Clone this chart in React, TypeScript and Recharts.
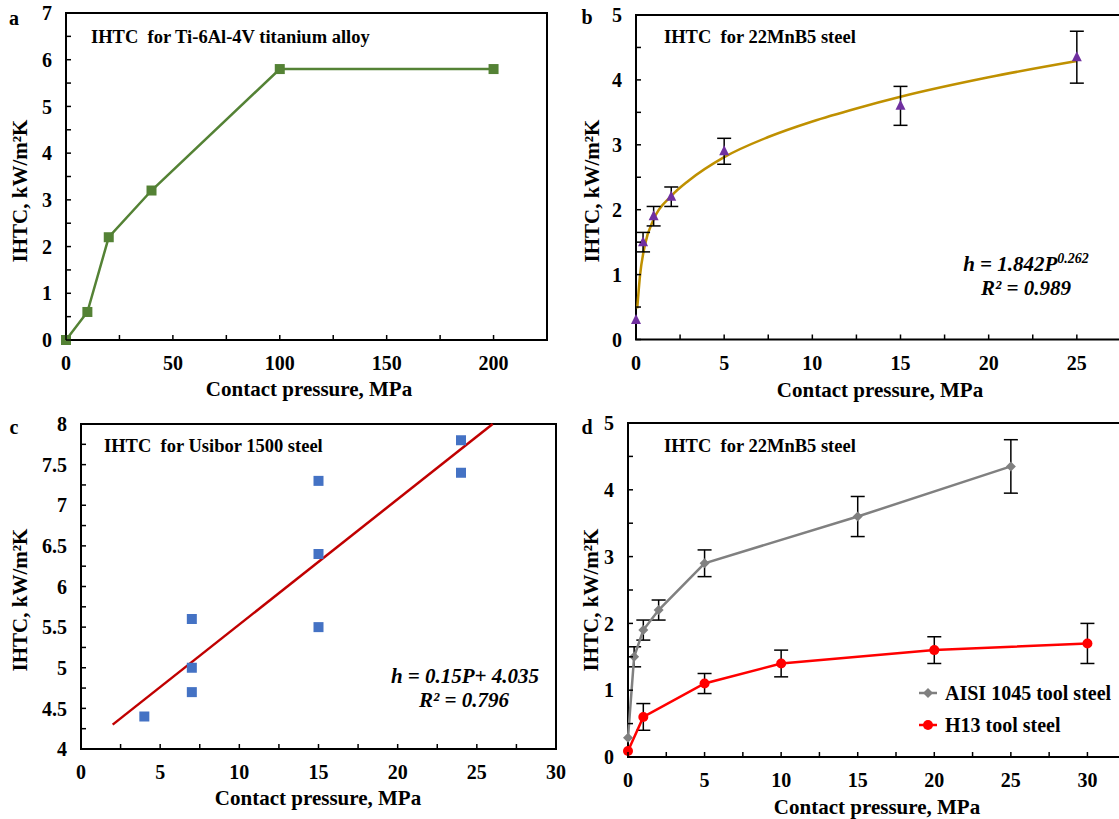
import React from "react";
import { ComposedChart, Line, Scatter, XAxis, YAxis, ErrorBar, ReferenceArea, Legend } from "recharts";

const FONT = '"Liberation Serif", "Times New Roman", Times, serif';

// a: Ti-6Al-4V
const tiPressure = [0, 10, 20, 40, 100, 200];
const tiIhtc = [0, 0.6, 2.2, 3.2, 5.8, 5.8];
const aXTicks = [0, 25, 50, 75, 100, 125, 150, 175, 200, 225];
const aYTicks = [0, 0.5, 1, 1.5, 2, 2.5, 3, 3.5, 4, 4.5, 5, 5.5, 6, 6.5, 7];

// b: 22MnB5 with power fit
const mnbPressure = [0, 0.4, 1, 2, 5, 15, 25];
const mnbIhtc = [0.3, 1.5, 1.9, 2.2, 2.9, 3.6, 4.35];
const mnbErr = [0, 0.15, 0.15, 0.15, 0.2, 0.3, 0.4];
const fitPressure = [0.07, 0.23, 0.5, 1, 2, 3, 5, 7.5, 10, 12.5, 15, 20, 25];
const fitIhtc = [0.48, 0.99, 1.45, 1.85, 2.21, 2.45, 2.81, 3.12, 3.36, 3.56, 3.74, 4.04, 4.29];
const bXTicks = [0, 2.5, 5, 7.5, 10, 12.5, 15, 17.5, 20, 22.5, 25, 27.5];
const bYTicks = [0, 0.5, 1, 1.5, 2, 2.5, 3, 3.5, 4, 4.5, 5];

// c: Usibor 1500 with linear fit
const usiPressure = [4, 7, 7, 7, 15, 15, 15, 24, 24];
const usiIhtc = [4.4, 5.6, 5.0, 4.7, 7.3, 6.4, 5.5, 7.8, 7.4];
const usiFitPressure = [2, 26];
const usiFitIhtc = [4.3, 8.0];
const cXTicks = [0, 2.5, 5, 7.5, 10, 12.5, 15, 17.5, 20, 22.5, 25, 27.5, 30];
const cYTicks = [4, 4.25, 4.5, 4.75, 5, 5.25, 5.5, 5.75, 6, 6.25, 6.5, 6.75, 7, 7.25, 7.5, 7.75, 8];

// d: 22MnB5 against two tool steels
const aisiPressure = [0, 0.4, 1, 2, 5, 15, 25];
const aisiIhtc = [0.29, 1.5, 1.9, 2.2, 2.9, 3.6, 4.35];
const aisiErr = [0, 0.15, 0.15, 0.15, 0.2, 0.3, 0.4];
const h13Pressure = [0, 1, 5, 10, 20, 30];
const h13Ihtc = [0.09, 0.6, 1.1, 1.4, 1.6, 1.7];
const h13Err = [0, 0.2, 0.15, 0.2, 0.2, 0.3];
const dXTicks = [0, 2.5, 5, 7.5, 10, 12.5, 15, 17.5, 20, 22.5, 25, 27.5, 30, 32.5];
const dYTicks = [0, 0.5, 1, 1.5, 2, 2.5, 3, 3.5, 4, 4.5, 5];

const zip = (xs: number[], ys: number[], es?: number[]) =>
  xs.map((x, i) => ({ x, y: ys[i], err: es ? es[i] : 0 }));

const tickFont = { fontFamily: FONT, fontWeight: 700, fontSize: 20, fill: "#000" };

const isStep = (v: number, step: number) => Math.abs(v / step - Math.round(v / step)) < 1e-6;

const yTick = (step: number) => (p: any) => {
  const v = p.payload.value;
  return (
    <g key={p.index}>
      <line x1={p.x} x2={p.x + 5} y1={p.y} y2={p.y} stroke="#000" strokeWidth={1.5} />
      {isStep(v, step) && (
        <text x={p.x - 14} y={p.y} dy="0.36em" textAnchor="end" {...tickFont}>{String(v)}</text>
      )}
    </g>
  );
};

const xTick = (step: number) => (p: any) => {
  const v = p.payload.value;
  return (
    <g key={p.index}>
      <line x1={p.x} x2={p.x} y1={p.y} y2={p.y - 5} stroke="#000" strokeWidth={1.5} />
      {isStep(v, step) && (
        <text x={p.x} y={p.y + 23} dy="0.36em" textAnchor="middle" {...tickFont}>{String(v)}</text>
      )}
    </g>
  );
};

const square = (size: number, fill: string) => (p: any) =>
  <rect key={p.index} x={p.cx - size / 2} y={p.cy - size / 2} width={size} height={size} fill={fill} />;
const triangle = (p: any) =>
  <polygon points={`${p.cx},${p.cy - 6} ${p.cx - 5},${p.cy + 4} ${p.cx + 5},${p.cy + 4}`} fill="#7030A0" />;
const diamond = (p: any) =>
  <polygon key={p.index} points={`${p.cx},${p.cy - 5} ${p.cx + 5},${p.cy} ${p.cx},${p.cy + 5} ${p.cx - 5},${p.cy}`} fill="#808080" />;
const circle = (p: any) => <circle key={p.index} cx={p.cx} cy={p.cy} r={5} fill="#FF0000" />;

function Txt({ x, y, size = 20, anchor = "middle", italic = false, rotate = false, children }: any) {
  const tx = anchor === "middle" ? "-50%" : "0";
  return (
    <div style={{
      position: "absolute", left: x, top: y, whiteSpace: "pre", fontFamily: FONT, fontWeight: 700,
      fontSize: size, fontStyle: italic ? "italic" : "normal", lineHeight: 1, color: "#000",
      transform: `translate(${tx}, -50%)${rotate ? " rotate(-90deg)" : ""}`,
    }}>{children}</div>
  );
}

const legendShapes: Record<string, string> = { "AISI 1045 tool steel": "diamond", "H13 tool steel": "circle" };

const renderLegend = (props: any) => (
  <div style={{ fontFamily: FONT, fontWeight: 700, fontSize: 20, whiteSpace: "nowrap" }}>
    {(props.payload || []).map((e: any) => (
      <div key={e.value} style={{ display: "flex", alignItems: "center", height: 32 }}>
        <svg width={22} height={12} style={{ marginRight: 6 }}>
          <line x1={2} x2={20} y1={6} y2={6} stroke={e.color} strokeWidth={2.5} />
          {legendShapes[e.value] === "diamond"
            ? <polygon points="11,1 16,6 11,11 6,6" fill={e.color} />
            : <circle cx={11} cy={6} r={5} fill={e.color} />}
        </svg>
        <span style={{ fontFamily: FONT }}>{e.value}</span>
      </div>
    ))}
  </div>
);

const axisCommon = { axisLine: false, tickSize: 0, tickMargin: 0, interval: 0 as const };

export default function App() {
  return (
    <div style={{ position: "absolute", left: 0, top: 0, width: 1119, height: 819, overflow: "hidden", background: "#fff", fontFamily: FONT }}>
      {/* a */}
      <div style={{ position: "absolute", left: 0, top: 0 }}>
        <ComposedChart width={560} height={405} margin={{ top: 13, right: 13, bottom: 0, left: 0 }}>
          <XAxis dataKey="x" type="number" domain={[0, 225]} ticks={aXTicks} height={65} tick={xTick(50)} {...axisCommon} />
          <YAxis type="number" domain={[0, 7]} ticks={aYTicks} width={66} tick={yTick(1)} {...axisCommon} />
          <ReferenceArea x1={0} x2={225} y1={0} y2={7} fill="none" stroke="#000" strokeWidth={2} />
          <Line data={zip(tiPressure, tiIhtc)} dataKey="y" stroke="#548235" strokeWidth={2.5}
            dot={square(10, "#548235")} activeDot={false} isAnimationActive={false} />
        </ComposedChart>
      </div>
      {/* b */}
      <div style={{ position: "absolute", left: 560, top: 0 }}>
        <ComposedChart width={620} height={405} margin={{ top: 15, right: 15, bottom: 0, left: 0 }}>
          <XAxis dataKey="x" type="number" domain={[0, 30]} ticks={bXTicks} height={65.5} tick={xTick(5)} {...axisCommon} />
          <YAxis type="number" domain={[0, 5]} ticks={bYTicks} width={76} tick={yTick(1)} {...axisCommon} />
          <ReferenceArea x1={0} x2={30} y1={0} y2={5} fill="none" stroke="#000" strokeWidth={2} />
          <Line data={zip(fitPressure, fitIhtc)} dataKey="y" type="monotone" stroke="#BF9000" strokeWidth={2.5}
            dot={false} activeDot={false} isAnimationActive={false} />
          <Scatter data={zip(mnbPressure, mnbIhtc, mnbErr)} dataKey="y" shape={triangle} isAnimationActive={false}>
            <ErrorBar dataKey="err" direction="y" width={7} stroke="#000" strokeWidth={1.5} />
          </Scatter>
        </ComposedChart>
      </div>
      {/* c */}
      <div style={{ position: "absolute", left: 0, top: 410 }}>
        <ComposedChart width={570} height={409} margin={{ top: 14, right: 14, bottom: 0, left: 0 }}>
          <XAxis dataKey="x" type="number" domain={[0, 30]} ticks={cXTicks} height={70} tick={xTick(5)} {...axisCommon} />
          <YAxis type="number" domain={[4, 8]} ticks={cYTicks} width={81} tick={yTick(0.5)} {...axisCommon} />
          <ReferenceArea x1={0} x2={30} y1={4} y2={8} fill="none" stroke="#000" strokeWidth={2} />
          <Line data={zip(usiFitPressure, usiFitIhtc)} dataKey="y" stroke="#C00000" strokeWidth={2.5}
            dot={false} activeDot={false} isAnimationActive={false} />
          <Scatter data={zip(usiPressure, usiIhtc)} dataKey="y" shape={square(10, "#4472C4")} isAnimationActive={false} />
        </ComposedChart>
      </div>
      {/* d */}
      <div style={{ position: "absolute", left: 560, top: 410 }}>
        <ComposedChart width={620} height={409} margin={{ top: 13, right: 16, bottom: 0, left: 0 }}>
          <XAxis dataKey="x" type="number" domain={[0, 35]} ticks={dXTicks} height={62} tick={xTick(5)} {...axisCommon} />
          <YAxis type="number" domain={[0, 5]} ticks={dYTicks} width={68} tick={yTick(1)} {...axisCommon} />
          <ReferenceArea x1={0} x2={35} y1={0} y2={5} fill="none" stroke="#000" strokeWidth={2} />
          <Line name="AISI 1045 tool steel" data={zip(aisiPressure, aisiIhtc, aisiErr)} dataKey="y" stroke="#808080"
            strokeWidth={2.5} dot={diamond} activeDot={false} isAnimationActive={false}>
            <ErrorBar dataKey="err" direction="y" width={7} stroke="#000" strokeWidth={1.5} />
          </Line>
          <Line name="H13 tool steel" data={zip(h13Pressure, h13Ihtc, h13Err)} dataKey="y" stroke="#FF0000"
            strokeWidth={2.5} dot={circle} activeDot={false} isAnimationActive={false}>
            <ErrorBar dataKey="err" direction="y" width={7} stroke="#000" strokeWidth={1.5} />
          </Line>
          <Legend layout="vertical" align="center" verticalAlign="middle" content={renderLegend}
            wrapperStyle={{ left: 357, top: 267, width: "auto", fontFamily: FONT }} />
        </ComposedChart>
      </div>

      <Txt x={14} y={18}>a</Txt>
      <Txt x={587} y={17}>b</Txt>
      <Txt x={14} y={427}>c</Txt>
      <Txt x={587} y={427}>d</Txt>

      <Txt x={91} y={37} size={18.5} anchor="start">IHTC  for Ti-6Al-4V titanium alloy</Txt>
      <Txt x={664} y={37} size={18.5} anchor="start">IHTC  for 22MnB5 steel</Txt>
      <Txt x={104} y={446} size={18.5} anchor="start">IHTC  for Usibor 1500 steel</Txt>
      <Txt x={664} y={446} size={18.5} anchor="start">IHTC  for 22MnB5 steel</Txt>

      <Txt x={20} y={191} size={21} rotate>IHTC, kW/m²K</Txt>
      <Txt x={592} y={191} size={21} rotate>IHTC, kW/m²K</Txt>
      <Txt x={20} y={600} size={21} rotate>IHTC, kW/m²K</Txt>
      <Txt x={591} y={600} size={21} rotate>IHTC, kW/m²K</Txt>

      <Txt x={309} y={389} size={21}>Contact pressure, MPa</Txt>
      <Txt x={880} y={390} size={21}>Contact pressure, MPa</Txt>
      <Txt x={318} y={798} size={21}>Contact pressure, MPa</Txt>
      <Txt x={877} y={807} size={21}>Contact pressure, MPa</Txt>

      <Txt x={1026} y={263} size={21} italic>h = 1.842P<span style={{ fontSize: 14, verticalAlign: "super" }}>0.262</span></Txt>
      <Txt x={1026} y={288} size={21} italic>R² = 0.989</Txt>
      <Txt x={465} y={676} size={21} italic>h = 0.15P+ 4.035</Txt>
      <Txt x={464} y={700} size={21} italic>R² = 0.796</Txt>
    </div>
  );
}
